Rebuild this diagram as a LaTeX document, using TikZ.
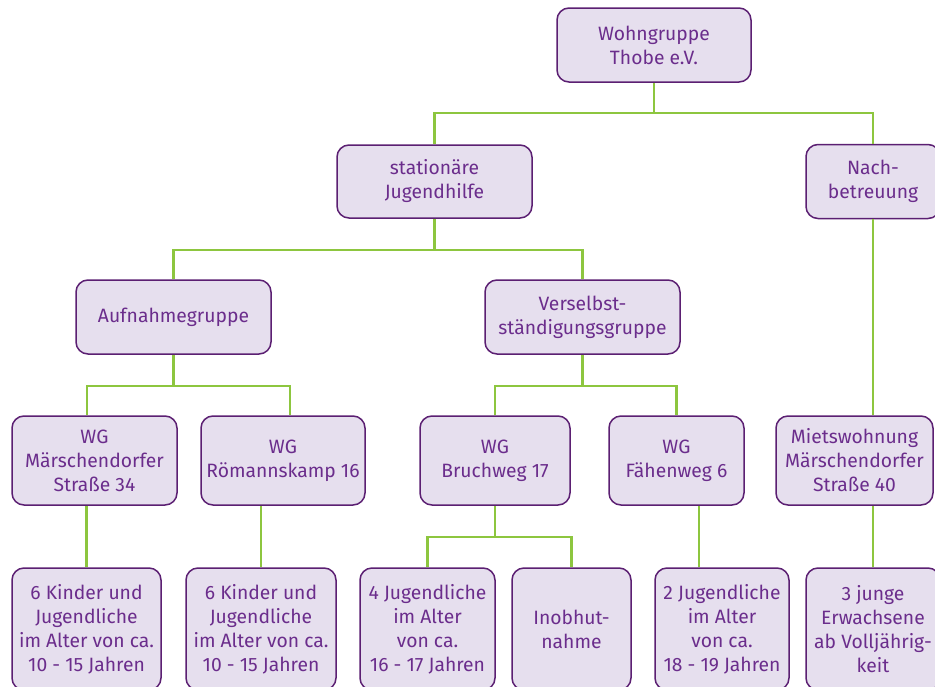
\documentclass[tikz,border=0pt]{standalone}
\usepackage{fontspec}
\setmainfont{Fira Sans}
\definecolor{boxfill}{HTML}{E6DFEE}
\definecolor{boxdraw}{HTML}{5B1F72}
\definecolor{boxtext}{HTML}{6B2D8C}
\definecolor{linkgreen}{HTML}{8DC63F}
\begin{document}
\begin{tikzpicture}[x=1pt,y=-1pt,
  box/.style={draw=boxdraw,fill=boxfill,line width=1.5pt,rounded corners=12pt,
    text=boxtext,align=center,inner sep=0pt,
    font=\fontsize{19.3}{24}\selectfont},
  link/.style={draw=linkgreen,line width=2.2pt}]
\useasboundingbox (0,0) rectangle (935,686);
% level 0
\node[box,minimum width=194pt,minimum height=74pt] (root) at (654,45) {Wohngruppe\\Thobe e.V.};
% level 1
\node[box,minimum width=195pt,minimum height=73pt] (stat) at (434.5,181.5) {stationäre\\Jugendhilfe};
\node[box,minimum width=134pt,minimum height=74pt] (nach) at (873,181.5) {Nach-\\betreuung};
% level 2
\node[box,minimum width=195pt,minimum height=74pt] (auf) at (173.5,317) {Aufnahmegruppe};
\node[box,minimum width=195pt,minimum height=74pt] (vers) at (582.5,317) {Verselbst-\\ständigungsgruppe};
% level 3
\node[box,minimum width=165pt,minimum height=89pt] (wg1) at (94.5,460.5) {WG\\Märschendorfer\\Straße 34};
\node[box,minimum width=164pt,minimum height=89pt] (wg2) at (283,460.5) {WG\\Römannskamp 16};
\node[box,minimum width=150pt,minimum height=89pt] (wg3) at (495,460.5) {WG\\Bruchweg 17};
\node[box,minimum width=135pt,minimum height=89pt] (wg4) at (676.5,460.5) {WG\\Fähenweg 6};
\node[box,minimum width=157pt,minimum height=89pt] (miet) at (854.5,460.5) {Mietswohnung\\Märschendorfer\\Straße 40};
% level 4
\node[box,minimum width=149pt,minimum height=122pt] (b1) at (86.5,629) {6 Kinder und\\Jugendliche\\im Alter von ca.\\10 - 15 Jahren};
\node[box,minimum width=150pt,minimum height=122pt] (b2) at (261,629) {6 Kinder und\\Jugendliche\\im Alter von ca.\\10 - 15 Jahren};
\node[box,minimum width=135pt,minimum height=122pt] (b3) at (427.5,629) {4 Jugendliche\\im Alter\\von ca.\\16 - 17 Jahren};
\node[box,minimum width=119pt,minimum height=122pt] (b4) at (571.5,629) {Inobhut-\\nahme};
\node[box,minimum width=134pt,minimum height=122pt] (b5) at (722,629) {2 Jugendliche\\im Alter\\von ca.\\18 - 19 Jahren};
\node[box,minimum width=134pt,minimum height=122pt] (b6) at (873,629) {3 junge\\Erwachsene\\ab Volljährig-\\keit};
% connectors
\draw[link] (root.south) -- (654,113) coordinate (j0);
\draw[link] (stat.north) |- (j0) -| (nach.north);
\draw[link] (stat.south) -- (434.5,250) coordinate (j1);
\draw[link] (auf.north) |- (j1) -| (vers.north);
\draw[link] (nach.south) -- (miet.north -| nach.south);
\draw[link] (auf.south) -- (173.5,386) coordinate (j2);
\draw[link] (wg1.north -| 87,0) |- (j2) -| (wg2.north -| 290,0);
\draw[link] (vers.south) -- (582.5,386) coordinate (j3);
\draw[link] (wg3.north) |- (j3) -| (wg4.north);
\draw[link] (wg1.south -| b1.north) -- (b1.north);
\draw[link] (wg2.south -| b2.north) -- (b2.north);
\draw[link] (wg3.south) -- (495,537) coordinate (j4);
\draw[link] (b3.north) |- (j4) -| (b4.north);
\draw[link] (wg4.south -| 699,0) -- (b5.north -| 699,0);
\draw[link] (miet.south -| b6.north) -- (b6.north);
\end{tikzpicture}
\end{document}
